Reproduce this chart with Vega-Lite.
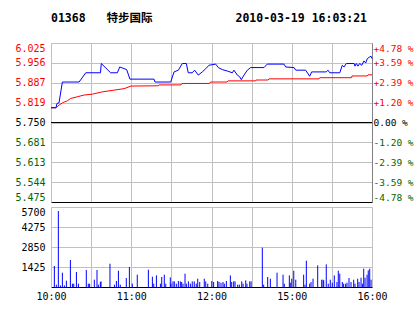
{
  "$schema": "https://vega.github.io/schema/vega-lite/v6.json",
  "padding": {"left": 14, "top": 12, "right": 0, "bottom": 0},
  "background": "white",
  "config": {
    "view": {"stroke": null},
    "axis": {"labelFont": "DejaVu Sans Mono", "labelFontSize": 10, "gridColor": "#c0c0c0", "gridWidth": 1, "ticks": false, "title": null, "domainColor": "#c0c0c0"},
    "concat": {"spacing": 5}
  },
  "datasets": {
    "px": [
      {"m":0,"p":5.801},{"m":3.7,"p":5.801},{"m":4.5,"p":5.816},{"m":6,"p":5.818},{"m":8.5,"p":5.890},{"m":21,"p":5.890},{"m":26,"p":5.922},{"m":37,"p":5.922},{"m":37.6,"p":5.954},{"m":44.6,"p":5.922},{"m":49.6,"p":5.922},{"m":51.4,"p":5.942},{"m":56.6,"p":5.933},{"m":59,"p":5.900},{"m":77,"p":5.900},{"m":77.8,"p":5.890},{"m":89.5,"p":5.890},{"m":92,"p":5.925},{"m":95.2,"p":5.931},{"m":98.2,"p":5.954},{"m":101.2,"p":5.954},{"m":102.6,"p":5.922},{"m":105.6,"p":5.922},{"m":107.4,"p":5.931},{"m":110.1,"p":5.914},{"m":113.1,"p":5.925},{"m":115.7,"p":5.936},{"m":118.1,"p":5.948},{"m":123.1,"p":5.952},{"m":125.1,"p":5.940},{"m":128.1,"p":5.933},{"m":131.8,"p":5.928},{"m":135.6,"p":5.922},{"m":136.8,"p":5.931},{"m":139.3,"p":5.914},{"m":141.1,"p":5.908},{"m":142.3,"p":5.898},{"m":144.3,"p":5.914},{"m":146.8,"p":5.931},{"m":149.3,"p":5.940},{"m":159.3,"p":5.940},{"m":161.7,"p":5.952},{"m":174.2,"p":5.952},{"m":175.5,"p":5.942},{"m":181.7,"p":5.940},{"m":183,"p":5.931},{"m":190.4,"p":5.931},{"m":193.4,"p":5.910},{"m":194.9,"p":5.925},{"m":205.8,"p":5.925},{"m":207.1,"p":5.931},{"m":208.4,"p":5.922},{"m":215.9,"p":5.922},{"m":217.8,"p":5.948},{"m":219.1,"p":5.942},{"m":220.8,"p":5.954},{"m":226.6,"p":5.954},{"m":227.3,"p":5.945},{"m":228.3,"p":5.954},{"m":229.5,"p":5.945},{"m":230.8,"p":5.954},{"m":232.3,"p":5.948},{"m":234,"p":5.963},{"m":235.3,"p":5.956},{"m":236.5,"p":5.971},{"m":238.3,"p":5.977},{"m":239.3,"p":5.979},{"m":240,"p":5.971}
    ],
    "avg": [
      {"m":0,"p":5.801},{"m":3.7,"p":5.801},{"m":6,"p":5.810},{"m":8.5,"p":5.818},{"m":12.2,"p":5.825},{"m":14.7,"p":5.833},{"m":19.7,"p":5.839},{"m":24.7,"p":5.845},{"m":30.9,"p":5.848},{"m":38.4,"p":5.856},{"m":47.1,"p":5.862},{"m":54.6,"p":5.867},{"m":59.8,"p":5.876},{"m":80,"p":5.877},{"m":80.8,"p":5.880},{"m":97.2,"p":5.880},{"m":98,"p":5.885},{"m":118.1,"p":5.885},{"m":119.6,"p":5.890},{"m":131.6,"p":5.890},{"m":132.3,"p":5.894},{"m":153,"p":5.894},{"m":153.3,"p":5.897},{"m":162.3,"p":5.897},{"m":163,"p":5.901},{"m":200.4,"p":5.901},{"m":200.9,"p":5.905},{"m":224.8,"p":5.905},{"m":225,"p":5.911},{"m":236.3,"p":5.911},{"m":237,"p":5.915},{"m":240,"p":5.915}
    ],
    "vol": [
      {"m":2.5,"v":1500},{"m":4,"v":166},{"m":5.5,"v":5415},{"m":7,"v":114},{"m":8.5,"v":1020},{"m":10,"v":114},{"m":11.5,"v":450},{"m":14.5,"v":1924},{"m":16,"v":235},{"m":17,"v":235},{"m":19,"v":1069},{"m":20.5,"v":235},{"m":26.4,"v":1211},{"m":27.9,"v":235},{"m":28.9,"v":235},{"m":32.4,"v":520},{"m":34.4,"v":1211},{"m":35.4,"v":166},{"m":36.9,"v":356},{"m":37.4,"v":400},{"m":44.1,"v":1660},{"m":47.4,"v":166},{"m":48.9,"v":427},{"m":50.4,"v":1161},{"m":51.8,"v":166},{"m":56.3,"v":641},{"m":58.6,"v":1425},{"m":60.8,"v":235},{"m":64.5,"v":876},{"m":72.8,"v":1233},{"m":75.8,"v":734},{"m":76.8,"v":235},{"m":78.8,"v":827},{"m":81.8,"v":235},{"m":82.8,"v":712},{"m":84.7,"v":876},{"m":85.8,"v":235},{"m":89.2,"v":684},{"m":89.7,"v":235},{"m":91.2,"v":400},{"m":92.2,"v":400},{"m":93.7,"v":235},{"m":95.2,"v":427},{"m":96.7,"v":400},{"m":97.7,"v":356},{"m":98.7,"v":235},{"m":100.2,"v":948},{"m":101.2,"v":235},{"m":102.7,"v":400},{"m":104.2,"v":235},{"m":105.6,"v":400},{"m":107.1,"v":400},{"m":108.6,"v":235},{"m":109.7,"v":591},{"m":111.2,"v":356},{"m":114.6,"v":591},{"m":115.7,"v":400},{"m":117.2,"v":235},{"m":120.2,"v":427},{"m":121.6,"v":356},{"m":124.6,"v":427},{"m":125.6,"v":356},{"m":127.1,"v":300},{"m":128.6,"v":356},{"m":129.6,"v":235},{"m":131.1,"v":427},{"m":134.1,"v":827},{"m":135.1,"v":356},{"m":136.6,"v":400},{"m":137.6,"v":400},{"m":139.6,"v":166},{"m":140.8,"v":166},{"m":142.6,"v":400},{"m":143.6,"v":235},{"m":145.6,"v":470},{"m":146.5,"v":235},{"m":148.6,"v":400},{"m":149.6,"v":400},{"m":158,"v":2800},{"m":159,"v":166},{"m":162,"v":712},{"m":164,"v":591},{"m":169,"v":1020},{"m":173.5,"v":876},{"m":174.4,"v":235},{"m":178.2,"v":827},{"m":178.9,"v":306},{"m":180,"v":591},{"m":181.5,"v":1161},{"m":183,"v":520},{"m":188.9,"v":876},{"m":189.9,"v":166},{"m":190.9,"v":1874},{"m":193.4,"v":235},{"m":194.4,"v":356},{"m":195.9,"v":591},{"m":199.4,"v":1539},{"m":202.4,"v":520},{"m":203.4,"v":520},{"m":203.9,"v":470},{"m":205.8,"v":1610},{"m":207.3,"v":235},{"m":208.8,"v":520},{"m":210.3,"v":306},{"m":211.8,"v":827},{"m":213.8,"v":356},{"m":214.8,"v":1161},{"m":215.9,"v":948},{"m":217.8,"v":356},{"m":218.8,"v":235},{"m":220.3,"v":235},{"m":221.3,"v":306},{"m":222.8,"v":641},{"m":224.3,"v":356},{"m":226.3,"v":520},{"m":227.3,"v":235},{"m":229.3,"v":591},{"m":230.3,"v":356},{"m":231.8,"v":663},{"m":232.8,"v":235},{"m":233.8,"v":1304},{"m":234.8,"v":663},{"m":236.3,"v":876},{"m":237.2,"v":1183},{"m":238.3,"v":1304},{"m":239.3,"v":520}
    ]
  },
  "vconcat": [
    {
      "width": 321,
      "height": 159,
      "title": {
        "text": "01368\u00a0\u00a0\u00a0特步国际\u00a0\u00a0\u00a0\u00a0\u00a0\u00a0\u00a0\u00a0\u00a0\u00a0\u00a0\u00a02010-03-19\u00a016:03:21",
        "anchor": "start", "frame": "group", "font": "DejaVu Sans Mono, Noto Sans CJK SC",
        "fontSize": 11.5, "fontWeight": "bold", "baseline": "alphabetic", "offset": 10, "color": "#000000"
      },
      "layer": [
        {
          "data": {"name": "avg"},
          "mark": {"type": "line", "color": "#ff0000", "strokeWidth": 1},
          "encoding": {
            "x": {"field": "m", "type": "quantitative", "scale": {"domain": [0, 240], "nice": false, "zero": false},
                  "axis": {"values": [0, 30, 60, 90, 120, 150, 180, 210, 240], "labels": false, "grid": true, "domainColor": "#000000"}},
            "y": {"field": "p", "type": "quantitative", "scale": {"domain": [5.475, 6.025], "nice": false, "zero": false},
                  "axis": {"orient": "left", "values": [6.025, 5.956, 5.887, 5.819, 5.75, 5.681, 5.613, 5.544, 5.475], "format": ".3f", "grid": true, "labelFlush": true, "labelPadding": 6,
                           "labelColor": {"expr": "datum.value > 5.751 ? '#ff0000' : datum.value < 5.749 ? '#006600' : '#000000'"}}}
          }
        },
        {
          "data": {"values": [{}]},
          "mark": {"type": "rule", "color": "#000000", "strokeWidth": 1},
          "encoding": {"y": {"datum": 5.75, "type": "quantitative", "axis": null}}
        },
        {
          "data": {"name": "px"},
          "mark": {"type": "line", "color": "#0000ff", "strokeWidth": 1},
          "encoding": {
            "x": {"field": "m", "type": "quantitative"},
            "y": {"field": "p", "type": "quantitative",
                  "axis": {"orient": "right", "values": [6.025, 5.956, 5.887, 5.819, 5.75, 5.681, 5.613, 5.544, 5.475], "grid": false, "labelFlush": true, "labelPadding": 1, "labelFontSize": 9.5, "domainColor": "#808080",
                           "labelExpr": "datum.value > 6 ? '+4.78 %' : datum.value > 5.9 ? '+3.59 %' : datum.value > 5.85 ? '+2.39 %' : datum.value > 5.76 ? '+1.20 %' : datum.value > 5.74 ? '\u00a00.00 %' : datum.value > 5.65 ? '-1.20 %' : datum.value > 5.6 ? '-2.39 %' : datum.value > 5.5 ? '-3.59 %' : '-4.78 %'",
                           "labelColor": {"expr": "datum.value > 5.751 ? '#ff0000' : datum.value < 5.749 ? '#006600' : '#000000'"}}}
          }
        }
      ],
      "resolve": {"scale": {"y": "shared"}, "axis": {"y": "independent"}}
    },
    {
      "width": 321,
      "height": 80,
      "data": {"name": "vol"},
      "mark": {"type": "rule", "color": "#0000ff", "strokeWidth": 1},
      "encoding": {
        "x": {"field": "m", "type": "quantitative", "scale": {"domain": [0, 240], "nice": false, "zero": false},
              "axis": {"values": [0, 30, 60, 90, 120, 150, 180, 210, 240], "grid": true, "domainColor": "#000000", "labelPadding": 4, "labelFlush": false, "labelOverlap": false, "labelColor": "#000000",
                       "labelExpr": "datum.value == 0 ? '10:00' : datum.value == 60 ? '11:00' : datum.value == 120 ? '12:00' : datum.value == 180 ? '15:00' : datum.value == 240 ? '16:00' : ''"}},
        "y": {"field": "v", "type": "quantitative", "scale": {"domain": [0, 5700], "nice": false},
              "axis": {"values": [1425, 2850, 4275, 5700], "format": "d", "grid": true, "labelFlush": true, "labelPadding": 6, "labelColor": "#000000"}},
        "y2": {"datum": 0}
      }
    }
  ]
}
